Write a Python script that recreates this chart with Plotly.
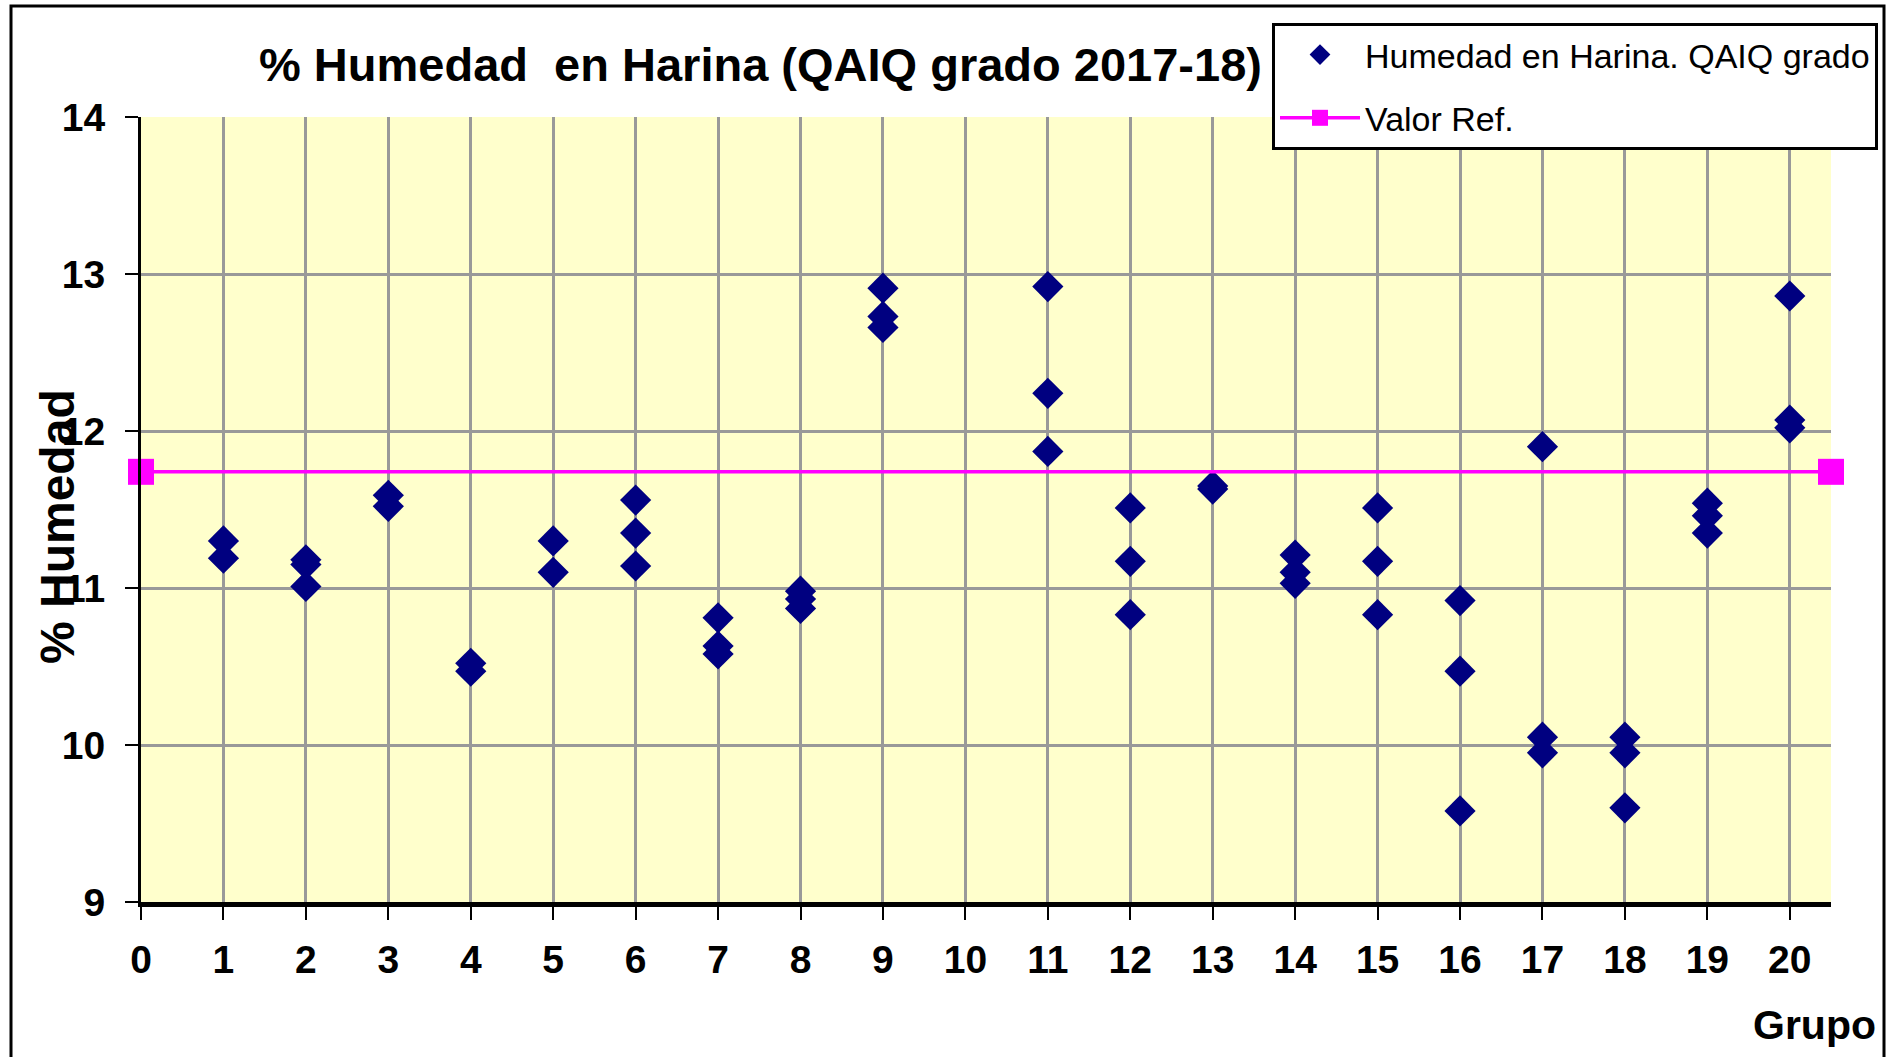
import plotly.graph_objects as go

# ---- data ----
grupos = [1, 1, 2, 2, 2, 3, 3, 4, 4, 5, 5, 6, 6, 6, 7, 7, 7, 8, 8, 8,
          9, 9, 9, 11, 11, 11, 12, 12, 12, 13, 13, 14, 14, 14, 15, 15, 15,
          16, 16, 16, 17, 17, 17, 18, 18, 18, 19, 19, 19, 20, 20, 20]
humedad = [11.30, 11.19, 11.18, 11.15, 11.01, 11.59, 11.52, 10.52, 10.47,
           11.30, 11.10, 11.56, 11.35, 11.14, 10.81, 10.63, 10.58,
           10.98, 10.93, 10.87, 12.91, 12.73, 12.66, 12.92, 12.24, 11.87,
           11.51, 11.17, 10.83, 11.65, 11.63, 11.21, 11.10, 11.03,
           11.51, 11.17, 10.83, 10.92, 10.47, 9.58, 11.90, 10.05, 9.95,
           10.05, 9.95, 9.60, 11.54, 11.46, 11.35, 12.86, 12.07, 12.02]
ref_x = [0, 20.5]
ref_y = [11.74, 11.74]
x_ticks = list(range(0, 21))
y_ticks = [9, 10, 11, 12, 13, 14]

title_text = "% Humedad  en Harina (QAIQ grado 2017-18)"
serie_name = "Humedad en Harina. QAIQ grado"
ref_name = "Valor Ref."

FONT = "Liberation Sans, Arial, sans-serif"

W, H = 1890, 1057
L, R, T, B = 141, 59, 117, 155
PW, PH = W - L - R, H - T - B


def px_x(p):
    return (p - L) / PW


def px_y(p):
    return (H - B - p) / PH


fig = go.Figure()
fig.add_trace(go.Scatter(
    x=grupos, y=humedad, mode="markers", name=serie_name,
    legendgroup="a",
    marker=dict(symbol="diamond", size=24, color="#000080",
                line=dict(width=0)),
))
fig.add_trace(go.Scatter(
    x=ref_x, y=ref_y, mode="lines+markers", name=ref_name,
    legendgroup="b",
    line=dict(color="#FF00FF", width=3.5),
    marker=dict(symbol="square", size=26, color="#FF00FF"),
    cliponaxis=False,
))

fig.update_layout(
    width=W, height=H,
    margin=dict(l=L, r=R, t=T, b=B, autoexpand=False),
    paper_bgcolor="white",
    plot_bgcolor="#FFFFCC",
    showlegend=True,
    legend=dict(
        x=px_x(1878), y=px_y(23), xanchor="right", yanchor="top",
        bgcolor="white", bordercolor="black", borderwidth=3,
        font=dict(family=FONT, size=34, color="black"),
        itemwidth=80, traceorder="grouped", tracegroupgap=16,
    ),
    annotations=[
        dict(text="<b>" + title_text + "</b>", x=px_x(760), y=px_y(64),
             xref="paper", yref="paper", xanchor="center", yanchor="middle",
             showarrow=False,
             font=dict(family=FONT, size=47, color="black")),
        dict(text="<b>% Humedad</b>", x=px_x(57), y=px_y(527),
             xref="paper", yref="paper", xanchor="center", yanchor="middle",
             textangle=-90, showarrow=False,
             font=dict(family=FONT, size=48, color="black")),
        dict(text="<b>Grupo</b>", x=px_x(1878), y=px_y(1025),
             xref="paper", yref="paper", xanchor="right", yanchor="middle",
             showarrow=False,
             font=dict(family=FONT, size=41, color="black")),
    ],
    shapes=[
        dict(type="rect", xref="paper", yref="paper",
             x0=px_x(11), x1=px_x(1884), y0=px_y(1075), y1=px_y(6),
             line=dict(color="black", width=3), fillcolor="rgba(0,0,0,0)",
             layer="above"),
    ],
)

fig.update_xaxes(
    range=[0, 20.5], tickvals=x_ticks,
    ticktext=["<b>%d</b>" % v for v in x_ticks],
    showgrid=True, gridcolor="#999999", gridwidth=2.5,
    showline=True, linecolor="black", linewidth=5,
    ticks="outside", ticklen=13, tickwidth=2, tickcolor="black",
    tickfont=dict(family=FONT, size=39, color="black"),
    ticklabelstandoff=6, zeroline=False,
)
fig.update_yaxes(
    range=[9, 14], tickvals=y_ticks,
    ticktext=["<b>%d</b>" % v for v in y_ticks],
    showgrid=True, gridcolor="#999999", gridwidth=2.5,
    showline=True, linecolor="black", linewidth=3,
    ticks="outside", ticklen=13, tickwidth=2, tickcolor="black",
    tickfont=dict(family=FONT, size=39, color="black"),
    ticklabelstandoff=12, zeroline=False,
)

fig.write_html("out.html",
               config={"displayModeBar": False},
               post_script="document.body.style.margin='0';"
                           "document.body.style.overflow='hidden';")
